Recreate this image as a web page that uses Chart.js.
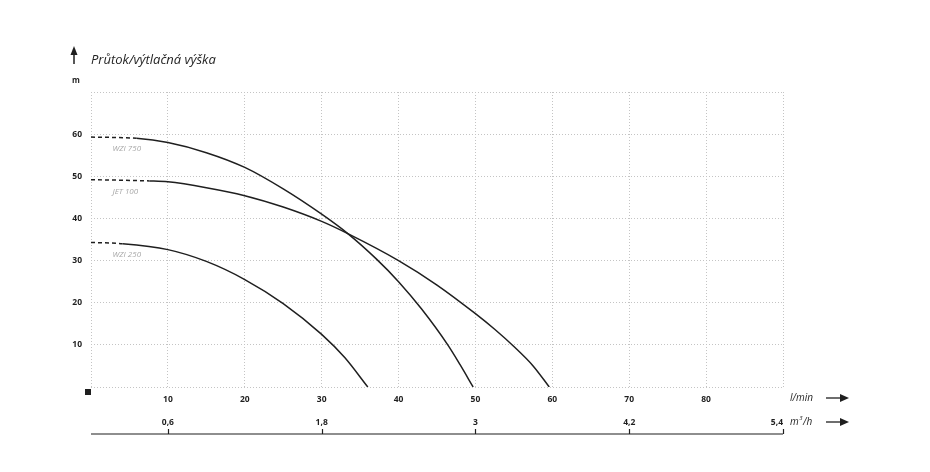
<!DOCTYPE html>
<html>
<head>
<meta charset="utf-8">
<script src="https://cdn.jsdelivr.net/npm/chart.js@4.4.1/dist/chart.umd.min.js"></script>
<style>
  html, body { margin: 0; background: #fff; }
  canvas { display: block; }
</style>
</head>
<body>
<canvas id="chart" width="930" height="472"></canvas>
<script>
// pump curves: flow in l/min, head in m (first segment is the dashed lead-in)
const WZI750_FLOW = [0, 5.9, 10, 15, 20, 25, 30, 33.4, 37.1, 40, 43, 46.4, 48, 49.7];
const WZI750_HEAD = [59.3, 59.0, 58.0, 55.6, 52.1, 47.0, 41.0, 36.4, 30.4, 25.0, 18.5, 10.0, 5.3, 0];
const JET100_FLOW = [0, 7.6, 10, 15, 20, 25, 30, 33.4, 40, 45, 50, 52.5, 55, 57.5, 59.6];
const JET100_HEAD = [49.2, 48.9, 48.7, 47.3, 45.4, 42.7, 39.3, 36.4, 30.0, 24.2, 17.4, 13.7, 9.6, 5.0, 0];
const WZI250_FLOW = [0, 4.1, 10, 15, 20, 25, 30, 33, 36.0];
const WZI250_HEAD = [34.3, 34.0, 32.6, 29.8, 25.5, 19.8, 12.5, 7.0, 0];

const SERIES_NAMES = ["WZI 750", "JET 100", "WZI 250"];
const M3H_TICKS = [0, 0.6, 1.8, 3, 4.2, 5.4];

const TITLE = "Průtok/výtlačná výška";
const INK = "#1f1f1f";
const FONT = "'Open Sans', 'DejaVu Sans', sans-serif";

const toPts = (xs, ys) => xs.map((v, i) => ({x: v, y: ys[i]}));

function curve(label, xs, ys){
  return {
    label,
    data: toPts(xs, ys),
    showLine: true,
    borderColor: INK,
    borderWidth: 1.5,
    pointRadius: 0,
    cubicInterpolationMode: "monotone",
    segment: { borderDash: c => c.p0DataIndex === 0 ? [4, 3] : undefined }
  };
}

function arrowRight(ctx, x0, x1, y){
  ctx.beginPath(); ctx.moveTo(x0, y); ctx.lineTo(x1 - 6, y); ctx.stroke();
  ctx.beginPath(); ctx.moveTo(x1, y); ctx.lineTo(x1 - 9, y - 4); ctx.lineTo(x1 - 9, y + 4); ctx.closePath(); ctx.fill();
}

function arrowUp(ctx, x, y0, y1){
  ctx.beginPath(); ctx.moveTo(x, y0); ctx.lineTo(x, y1 + 6); ctx.stroke();
  ctx.beginPath(); ctx.moveTo(x, y1); ctx.lineTo(x - 3.5, y1 + 9); ctx.lineTo(x + 3.5, y1 + 9); ctx.closePath(); ctx.fill();
}

const decor = {
  id: "decor",
  afterDraw(chart){
    const {ctx, chartArea: a, scales: {x, y, x2}} = chart;
    ctx.save();
    ctx.strokeStyle = INK; ctx.fillStyle = INK; ctx.lineWidth = 1.5;

    // title + up arrow
    arrowUp(ctx, 74, 64, 46);
    ctx.font = "italic 13px " + FONT;
    ctx.textBaseline = "alphabetic"; ctx.textAlign = "left";
    ctx.fillText(TITLE, 91, 64);
    ctx.font = "bold 8px " + FONT;
    ctx.textAlign = "center";
    ctx.fillText("m", 76, 83);

    // origin marker
    ctx.fillRect(a.left - 6, a.bottom + 2, 6, 6);

    // unit labels + arrows
    ctx.font = "italic 10px " + FONT;
    ctx.textAlign = "left"; ctx.textBaseline = "middle";
    ctx.fillText("l/min", 790, 398);
    ctx.fillText("m", 790, 422);
    let mx = 790 + ctx.measureText("m").width + 0.5;
    ctx.font = "italic 6px " + FONT;
    ctx.fillText("3", mx, 418);
    mx += ctx.measureText("3").width + 0.5;
    ctx.font = "italic 10px " + FONT;
    ctx.fillText("/h", mx, 422);
    ctx.lineWidth = 1.3;
    arrowRight(ctx, 826, 849, 398);
    arrowRight(ctx, 826, 849, 422);

    // m3/h axis line with upward ticks
    const lineY = x2.top + 23;
    ctx.lineWidth = 1.2;
    ctx.beginPath(); ctx.moveTo(a.left, lineY); ctx.lineTo(a.right, lineY); ctx.stroke();
    M3H_TICKS.filter(v => v > 0).forEach(v => {
      const px = Math.round(x2.getPixelForValue(v)) + 0.5;
      ctx.beginPath(); ctx.moveTo(px, lineY - 5); ctx.lineTo(px, lineY); ctx.stroke();
    });

    // curve names
    ctx.fillStyle = "#a8a8a8";
    ctx.font = "italic 8px " + FONT;
    ctx.textBaseline = "middle";
    const firstHeads = [WZI750_HEAD[0], JET100_HEAD[0], WZI250_HEAD[0]];
    SERIES_NAMES.forEach((n, i) => {
      ctx.fillText(n, x.getPixelForValue(2.8), y.getPixelForValue(firstHeads[i]) + 12);
    });
    ctx.restore();
  }
};

const gridStyle = { color: "#c4c4c4", lineWidth: 1, drawTicks: false, borderDash: [1, 2] };
const tickFont = { family: FONT, size: 8.5, weight: "bold" };

new Chart(document.getElementById("chart"), {
  type: "scatter",
  data: { datasets: [
    curve(SERIES_NAMES[0], WZI750_FLOW, WZI750_HEAD),
    curve(SERIES_NAMES[1], JET100_FLOW, JET100_HEAD),
    curve(SERIES_NAMES[2], WZI250_FLOW, WZI250_HEAD)
  ]},
  options: {
    responsive: false,
    animation: false,
    layout: { padding: { top: 92, right: 147, bottom: 31, left: 0 } },
    plugins: { legend: { display: false }, tooltip: { enabled: false } },
    scales: {
      x: {
        type: "linear", min: 0, max: 90, position: "bottom",
        grid: gridStyle,
        border: { display: false, dash: [1, 2] },
        ticks: { stepSize: 10, color: INK, font: tickFont, padding: 7, maxRotation: 0,
                 callback: v => (v === 0 || v === 90) ? "" : v },
        afterFit: s => { s.height = 24; }
      },
      x2: {
        type: "linear", min: 0, max: 5.4, position: "bottom",
        grid: { display: false, drawTicks: false },
        border: { display: false },
        afterBuildTicks: s => { s.ticks = M3H_TICKS.map(v => ({value: v})); },
        ticks: { color: INK, font: tickFont, padding: 6, maxRotation: 0, autoSkip: false, align: "inner",
                 callback: v => v === 0 ? "" : String(v).replace(".", ",") },
        afterFit: s => { s.height = 30; }
      },
      y: {
        type: "linear", min: 0, max: 70,
        grid: gridStyle,
        border: { display: false, dash: [1, 2] },
        ticks: { stepSize: 10, color: INK, font: tickFont, padding: 9,
                 callback: v => (v === 0 || v === 70) ? "" : v },
        afterFit: s => { s.width = 91; }
      }
    }
  },
  plugins: [decor]
});
</script>
</body>
</html>
